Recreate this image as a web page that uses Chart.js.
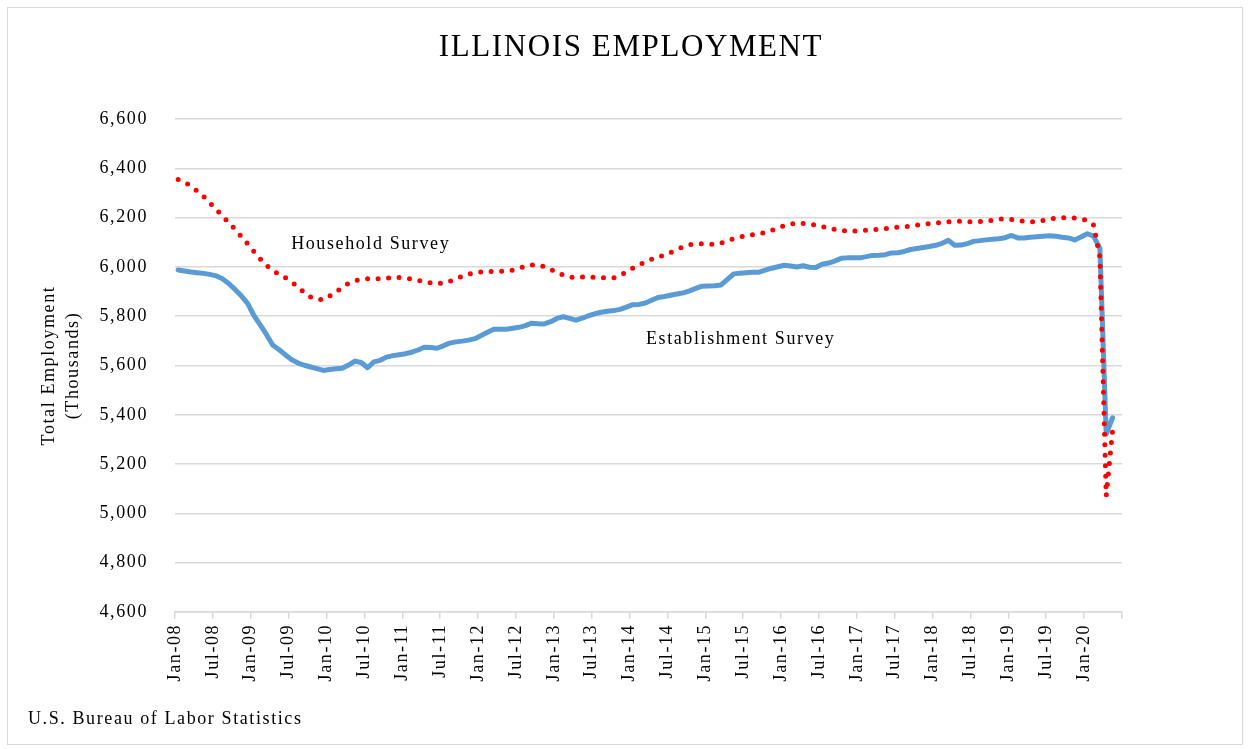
<!DOCTYPE html>
<html>
<head>
<meta charset="utf-8">
<title>Illinois Employment</title>
<script src="https://cdn.jsdelivr.net/npm/chart.js@4.4.0/dist/chart.umd.min.js"></script>
<style>
  body { margin: 0; background: #fff; }
  #wrap { position: relative; width: 1250px; height: 749px; }
  #frame { position: absolute; left: 7px; top: 7px; width: 1236px; height: 738px; border: 1px solid #d9d9d9; box-sizing: border-box; pointer-events: none; }
</style>
</head>
<body>
<div id="wrap">
  <canvas id="myChart" width="1250" height="749"></canvas>
  <div id="frame"></div>
</div>
<script>
// x axis tick labels, one every 6 months
const tickLabels = ['Jan-08', 'Jul-08', 'Jan-09', 'Jul-09', 'Jan-10', 'Jul-10', 'Jan-11', 'Jul-11',
  'Jan-12', 'Jul-12', 'Jan-13', 'Jul-13', 'Jan-14', 'Jul-14', 'Jan-15', 'Jul-15', 'Jan-16', 'Jul-16',
  'Jan-17', 'Jul-17', 'Jan-18', 'Jul-18', 'Jan-19', 'Jul-19', 'Jan-20'];

// Household survey, thousands (Jan-08 .. May-20)
const household = [
  6355, 6344, 6329, 6309, 6287, 6261, 6234, 6207, 6181, 6153,
  6124, 6094, 6063, 6033, 6006, 5985, 5970, 5956, 5939, 5918,
  5896, 5878, 5869, 5867, 5882, 5899, 5917, 5934, 5944, 5950,
  5952, 5952, 5953, 5955, 5957, 5957, 5955, 5951, 5946, 5940,
  5935, 5931, 5936, 5942, 5952, 5962, 5971, 5976, 5980, 5982,
  5982, 5982, 5984, 5987, 5995, 6002, 6008, 6007, 6002, 5991,
  5976, 5968, 5959, 5957, 5959, 5959, 5958, 5957, 5956, 5956,
  5966, 5979, 5995, 6008, 6020, 6031, 6041, 6048, 6059, 6070,
  6082, 6090, 6094, 6094, 6093, 6092, 6097, 6107, 6114, 6121,
  6129, 6131, 6135, 6140, 6149, 6158, 6168, 6174, 6179, 6177,
  6175, 6169, 6164, 6158, 6153, 6148, 6147, 6146, 6147, 6149,
  6152, 6153, 6156, 6159, 6162, 6163, 6166, 6170, 6173, 6176,
  6178, 6182, 6184, 6185, 6186, 6184, 6184, 6185, 6187, 6190,
  6194, 6195, 6193, 6189, 6185, 6183, 6184, 6189, 6194, 6198,
  6200, 6201, 6199, 6195, 6189, 6170, 6040, 5070, 5335
];

// Establishment survey, thousands (Jan-08 .. May-20)
const establishment = [
  5988, 5984, 5980, 5977, 5974, 5970, 5964, 5952, 5933, 5909,
  5883, 5852, 5803, 5765, 5725, 5682, 5664, 5643, 5623, 5610,
  5601, 5594, 5587, 5580, 5584, 5587, 5589, 5602, 5618, 5612,
  5591, 5615, 5621, 5634, 5640, 5644, 5648, 5654, 5663, 5674,
  5673, 5670, 5680, 5691, 5696, 5699, 5703, 5709, 5722, 5735,
  5747, 5747, 5747, 5751, 5755, 5762, 5772, 5770, 5769, 5778,
  5791, 5798, 5791, 5784, 5792, 5802, 5810, 5816, 5820, 5823,
  5828, 5837, 5847, 5848, 5854, 5865, 5876, 5880, 5885, 5890,
  5895, 5903, 5913, 5922, 5923, 5924, 5927, 5950, 5972, 5975,
  5977, 5979, 5979, 5987, 5995, 6001, 6007, 6004, 6000, 6005,
  5999, 5998, 6011, 6016, 6024, 6035, 6037, 6037, 6037, 6042,
  6047, 6048, 6050, 6057, 6058, 6063, 6071, 6075, 6079, 6083,
  6088, 6096, 6108, 6088, 6089, 6095, 6104, 6107, 6110, 6113,
  6115, 6119, 6128, 6118, 6118, 6121, 6123, 6125, 6127, 6125,
  6121, 6118, 6110, 6122, 6135, 6125, 6075, 5322, 5388
];

// series labels written on the plot
const seriesNotes = [
  { text: 'Household Survey', month: 31, value: 6093 },
  { text: 'Establishment Survey', month: 89.6, value: 5707 }
];

const serif = 'Liberation Serif, Times New Roman, serif';

// month names for each data point
const monthNames = ['Jan', 'Feb', 'Mar', 'Apr', 'May', 'Jun', 'Jul', 'Aug', 'Sep', 'Oct', 'Nov', 'Dec'];
const months = household.map((v, i) => monthNames[i % 12] + '-' + String(8 + Math.floor(i / 12)).padStart(2, '0'));

// data sits in the middle of each month
function toPoints(values) {
    return values.map((v, i) => ({ x: i + 0.5, y: v }));
}

// wider letter spacing like the original picture
const spacingPlugin = {
    id: 'spacing',
    beforeLayout(chart) { chart.ctx.letterSpacing = '1.6px'; },
    beforeDraw(chart) { chart.ctx.letterSpacing = '1.6px'; }
};

// the two text labels on the plot
const notesPlugin = {
    id: 'notes',
    afterDatasetsDraw(chart) {
        const ctx = chart.ctx;
        const xs = chart.scales.x;
        const ys = chart.scales.y;
        ctx.save();
        ctx.font = '18px ' + serif;
        ctx.fillStyle = '#000';
        ctx.textAlign = 'center';
        ctx.textBaseline = 'middle';
        seriesNotes.forEach(n => {
            ctx.fillText(n.text, xs.getPixelForValue(n.month), ys.getPixelForValue(n.value));
        });
        ctx.restore();
    }
};

const ctx = document.getElementById('myChart').getContext('2d');
const myChart = new Chart(ctx, {
    type: 'line',
    data: {
        labels: months,
        datasets: [{
            label: 'Household Survey',
            data: toPoints(household),
            borderColor: '#ff0000',
            borderWidth: 5,
            borderDash: [0, 10.5],
            borderCapStyle: 'round',
            pointRadius: 0,
            tension: 0,
            fill: false
        }, {
            label: 'Establishment Survey',
            data: toPoints(establishment),
            borderColor: '#5b9bd5',
            borderWidth: 5,
            borderJoinStyle: 'round',
            borderCapStyle: 'round',
            pointRadius: 0,
            tension: 0,
            fill: false
        }]
    },
    options: {
        responsive: false,
        animation: false,
        layout: { padding: { left: 28, right: 16, top: 0, bottom: 0 } },
        plugins: {
            legend: { display: false },
            tooltip: { enabled: false },
            title: {
                display: true,
                text: 'ILLINOIS EMPLOYMENT',
                color: '#000',
                font: { family: serif, size: 31, weight: 'normal' },
                padding: { top: 29, bottom: 53 }
            },
            subtitle: {
                display: true,
                position: 'bottom',
                align: 'start',
                text: 'U.S. Bureau of Labor Statistics',
                color: '#000',
                font: { family: serif, size: 18, weight: 'normal' },
                padding: { top: 22, bottom: 19 }
            }
        },
        scales: {
            x: {
                type: 'linear',
                min: 0,
                max: 150,
                grid: { drawOnChartArea: false, drawTicks: true, tickLength: 7, color: '#d9d9d9', lineWidth: 1.5 },
                border: { display: true, color: '#d9d9d9', width: 1.5 },
                ticks: {
                    stepSize: 6,
                    autoSkip: false,
                    maxTicksLimit: 40,
                    maxRotation: 90,
                    minRotation: 90,
                    padding: 5,
                    color: '#000',
                    font: { family: serif, size: 18 },
                    callback: v => tickLabels[v / 6] || ''
                }
            },
            y: {
                min: 4600,
                max: 6600,
                afterFit(scale) { scale.width = 147; },
                grid: { color: '#d9d9d9', lineWidth: 1.5, drawTicks: false },
                border: { display: false },
                ticks: {
                    stepSize: 200,
                    padding: 27,
                    color: '#000',
                    font: { family: serif, size: 18 },
                    callback: v => v.toLocaleString('en-US')
                },
                title: {
                    display: true,
                    text: ['Total Employment', '(Thousands)'],
                    color: '#000',
                    font: { family: serif, size: 18, lineHeight: 1.3 },
                    padding: { top: 10, bottom: 14 }
                }
            },
            // empty space on the right of the plot, keeps the title centred like the original
            yRight: {
                position: 'right',
                min: 4600,
                max: 6600,
                afterFit(scale) { scale.width = 112; },
                grid: { display: false },
                border: { display: false },
                ticks: { display: false }
            }
        }
    },
    plugins: [spacingPlugin, notesPlugin]
});
</script>
</body>
</html>
